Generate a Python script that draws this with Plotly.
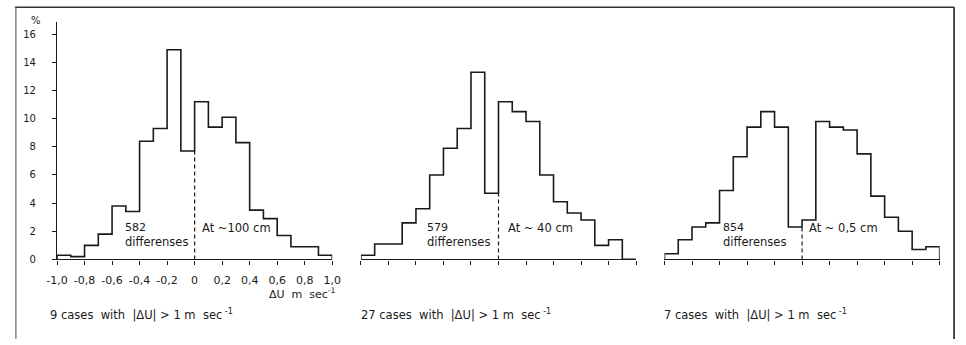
import plotly.graph_objects as go

# Bin edges of the wind-difference histograms (ΔU, m/s), bin width 0.1
BIN_EDGES = [-1.0, -0.9, -0.8, -0.7, -0.6, -0.5, -0.4, -0.3, -0.2, -0.1, 0.0,
             0.1, 0.2, 0.3, 0.4, 0.5, 0.6, 0.7, 0.8, 0.9, 1.0]

# Relative frequency (%) in each bin for the three measurement heights
PCT_100CM = [0.3, 0.2, 1.0, 1.8, 3.8, 3.4, 8.4, 9.3, 14.9, 7.7,
             11.2, 9.4, 10.1, 8.3, 3.5, 2.9, 1.7, 0.9, 0.9, 0.3]
PCT_40CM = [0.3, 1.1, 1.1, 2.6, 3.6, 6.0, 7.9, 9.3, 13.3, 4.7,
            11.2, 10.5, 9.8, 6.0, 4.1, 3.3, 2.8, 1.0, 1.4, 0.0]
PCT_05CM = [0.4, 1.4, 2.3, 2.6, 4.9, 7.3, 9.4, 10.5, 9.4, 2.3,
            2.8, 9.8, 9.4, 9.2, 7.5, 4.5, 3.0, 2.0, 0.7, 0.9]

N_DIFFS = ["582", "579", "854"]
HEIGHT_LABELS = ["At ~100 cm", "At ~ 40 cm", "At ~ 0,5 cm"]
OUTLIER_COUNTS = [9, 27, 7]

X_TICKS = [-1.0, -0.8, -0.6, -0.4, -0.2, 0.0, 0.2, 0.4, 0.6, 0.8, 1.0]
X_TICK_TEXT = ["-1,0", "-0,8", "-0,6", "-0,4", "-0,2", "0", "0,2", "0,4", "0,6", "0,8", "1,0"]
Y_TICKS = [0, 2, 4, 6, 8, 10, 12, 14, 16]

W, H = 966, 345
FONT = "DejaVu Sans, Liberation Sans, sans-serif"
INK = "#1a1a1a"


def step_outline(edges, values):
    """Histogram outline as an hv step path closed down to the baseline."""
    xs = [edges[0]] + list(edges[:-1]) + [edges[-1], edges[-1]]
    ys = [0] + list(values) + [values[-1], 0]
    return xs, ys


fig = go.Figure()

panels = [PCT_100CM, PCT_40CM, PCT_05CM]
x_domains = [[47 / W, 328 / W], [357.3 / W, 638.3 / W], [667.3 / W, 948.3 / W]]
y_domain = [(H - 264) / H, (H - 22) / H]
caption_x = [38, 355, 665]

annotations = []
for i, values in enumerate(panels):
    xa = "x" if i == 0 else f"x{i + 1}"
    ya = "y" if i == 0 else f"y{i + 1}"
    xs, ys = step_outline(BIN_EDGES, values)
    fig.add_trace(go.Scatter(
        x=xs, y=ys, xaxis=xa, yaxis=ya, mode="lines",
        line=dict(color=INK, width=1.6, shape="hv"),
        cliponaxis=False, hoverinfo="skip", showlegend=False,
    ))
    # dashed divider at ΔU = 0, up to the lower of the two central bins
    zero_idx = BIN_EDGES.index(0.0)
    dash_top = min(values[zero_idx - 1], values[zero_idx])
    fig.add_trace(go.Scatter(
        x=[0, 0], y=[0, dash_top], xaxis=xa, yaxis=ya, mode="lines",
        line=dict(color=INK, width=1.2, dash="4px,3px"),
        hoverinfo="skip", showlegend=False,
    ))

    text_x = [-0.52, -0.535, -0.59][i]
    lab_x = [0.037, 0.056, 0.037][i]
    annotations += [
        dict(x=text_x, y=2.25, xref=xa, yref=ya, text=N_DIFFS[i], showarrow=False,
             xanchor="left", yanchor="middle", font=dict(size=11, color=INK)),
        dict(x=text_x, y=1.26, xref=xa, yref=ya, text="differenses", showarrow=False,
             xanchor="left", yanchor="middle", font=dict(size=11.5, color=INK)),
        dict(x=lab_x, y=2.25, xref=xa, yref=ya, text=HEIGHT_LABELS[i], showarrow=False,
             xanchor="left", yanchor="middle", font=dict(size=11.5, color=INK)),
        dict(x=caption_x[i] / W, y=1 - 310 / H, xref="paper", yref="paper",
             text=f"{OUTLIER_COUNTS[i]} cases  with  |ΔU| > 1 m  sec<sup> -1</sup>",
             showarrow=False, xanchor="left", yanchor="top",
             font=dict(size=11.5, color=INK)),
    ]

# axis caption and unit
annotations += [
    dict(x=334 / W, y=1 - 289 / H, xref="paper", yref="paper",
         text="ΔU  m  sec<sup>-1</sup>", showarrow=False, xanchor="right",
         yanchor="top", font=dict(size=11, color=INK)),
    dict(x=33 / W, y=1 - 21 / H, xref="paper", yref="paper", text="%",
         showarrow=False, xanchor="right", yanchor="middle",
         font=dict(size=10, color=INK)),
]

layout = dict(
    width=W, height=H,
    margin=dict(l=0, r=0, t=0, b=0),
    paper_bgcolor="white", plot_bgcolor="white",
    font=dict(family=FONT, color=INK, size=10),
    annotations=annotations,
    showlegend=False,
)

for i in range(3):
    xkey = "xaxis" if i == 0 else f"xaxis{i + 1}"
    ykey = "yaxis" if i == 0 else f"yaxis{i + 1}"
    ya = "y" if i == 0 else f"y{i + 1}"
    xa = "x" if i == 0 else f"x{i + 1}"
    layout[xkey] = dict(
        domain=x_domains[i], range=[-1.0, 1.0], anchor=ya,
        showgrid=False, zeroline=False, showline=True, linecolor=INK, linewidth=1.2,
        ticks="outside", ticklen=4, tickwidth=1.2, tickcolor=INK,
        tickvals=X_TICKS, ticktext=X_TICK_TEXT, showticklabels=(i == 0),
        tickfont=dict(size=11, color=INK), ticklabelstandoff=6,
        fixedrange=True,
    )
    layout[ykey] = dict(
        domain=y_domain, range=[0, 16.9], anchor=xa,
        showgrid=False, zeroline=False, fixedrange=True,
    )
    if i == 0:
        layout[ykey].update(
            showline=True, linecolor=INK, linewidth=1.2,
            ticks="outside", ticklen=4, tickwidth=1.2, tickcolor=INK,
            tickvals=Y_TICKS, tickfont=dict(size=10, color=INK),
            ticklabelstandoff=14,
        )
    else:
        layout[ykey].update(visible=False)

# page frame
layout["shapes"] = [
    dict(type="line", xref="paper", yref="paper", x0=4 / W, x1=963 / W,
         y0=1 - 7.5 / H, y1=1 - 7.5 / H, line=dict(color="#333", width=1.5)),
    dict(type="line", xref="paper", yref="paper", x0=5 / W, x1=5 / W,
         y0=0, y1=1 - 7.5 / H, line=dict(color="#666", width=1.2)),
    dict(type="line", xref="paper", yref="paper", x0=963 / W, x1=963 / W,
         y0=0, y1=1 - 7.5 / H, line=dict(color="#111", width=1.5)),
]

fig.update_layout(**layout)
fig.write_html("out.html")
